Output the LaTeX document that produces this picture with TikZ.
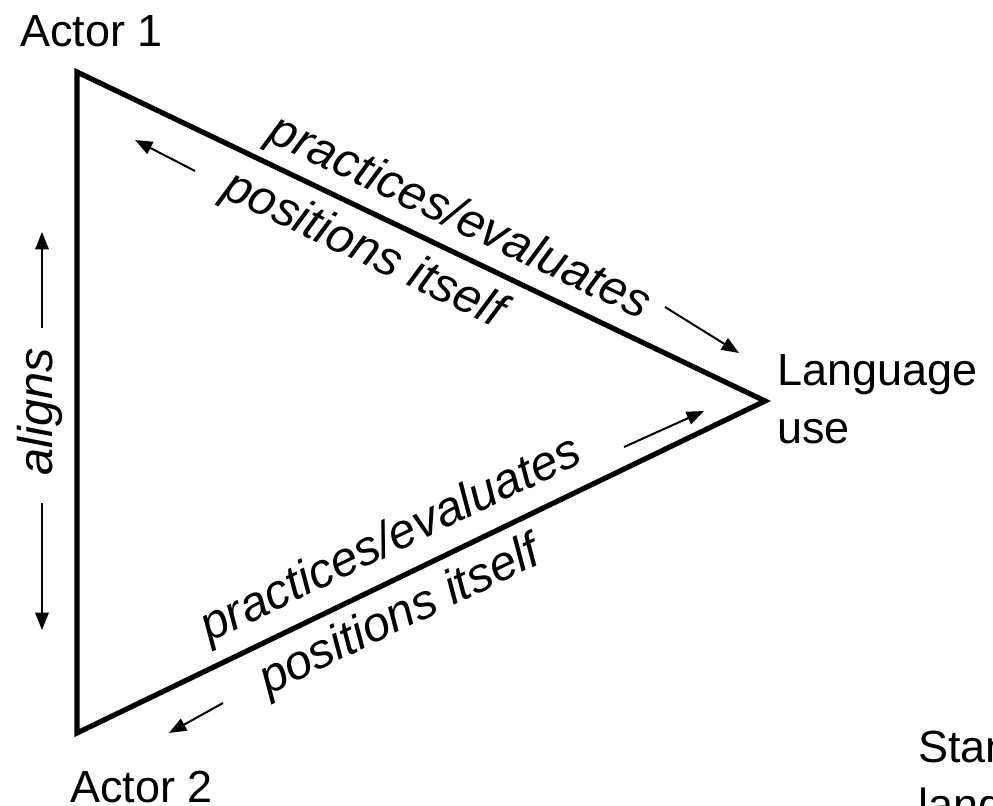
\documentclass[tikz,border=0pt]{standalone}
\usepackage{fontspec}
\setmainfont{Liberation Sans}
\usetikzlibrary{arrows.meta}
\usetikzlibrary{positioning}

\newcommand{\figfont}{\fontsize{33.75}{43.5}\selectfont}
\newcommand{\sidefont}{\fontsize{36.5}{44}\selectfont\itshape}

\tikzset{
	edge/.style={line width=3.9pt, line join=miter},
	arr/.style={line width=1.5pt, -{Triangle[length=13pt, width=10pt]}},
	lbl/.style={font=\sidefont, inner sep=0pt},
}

\begin{document}
\begin{tikzpicture}[x=0.75pt, y=-0.75pt, every node/.style={font=\figfont}]
		\useasboundingbox (0,0) rectangle (993,806);
		\clip (0,0) rectangle (993,806);

		% triangle
		\coordinate (a1) at (77,72);
		\coordinate (lang) at (765,401);
		\coordinate (a2) at (77,733);
		\draw[edge] (a1) -- (lang) -- (a2) -- cycle;

		% corners
		\node[anchor=base west, inner sep=0pt] (actor1) at (20,47) {Actor 1};
		\node[anchor=base west, inner sep=0pt] (actor2) at (70,802) {Actor 2};
		\node[anchor=base west, inner sep=0pt, align=left] (languse) at (777,443) {Language\\use};
		\node[anchor=base west, inner sep=0pt, align=left] (standard) at (918,820) {Standard\\language};

		% upper side
		\path (a1) -- (lang)
			node[lbl, sloped, pos=.535, above=7pt] (pe1) {practices/evaluates}
			node[lbl, sloped, pos=.44, below=11pt] (pi1) {positions itself};
		\coordinate (u1) at (195,171); \coordinate (u1e) at (135,140);
		\coordinate (u2) at (665,307); \coordinate (u2e) at (739,353);
		\draw[arr] (u1) -- (u1e);
		\draw[arr] (u2) -- (u2e);

		% lower side
		\path (a2) -- (lang)
			node[lbl, sloped, pos=.48, above=10pt] (pe2) {practices/evaluates}
			node[lbl, sloped, pos=.447, below=10pt] (pi2) {positions itself};
		\coordinate (d1) at (624,447); \coordinate (d1e) at (704,411);
		\coordinate (d2) at (223,703); \coordinate (d2e) at (169,733);
		\draw[arr] (d1) -- (d1e);
		\draw[arr] (d2) -- (d2e);

		% left side
		\node[lbl, rotate=90] (aligns) at (40,412) {aligns};
		\coordinate (l1) at (42,328); \coordinate (l1e) at (42,232);
		\coordinate (l2) at (42,503); \coordinate (l2e) at (42,630);
		\draw[arr] (l1) -- (l1e);
		\draw[arr] (l2) -- (l2e);
	\end{tikzpicture}
\end{document}
